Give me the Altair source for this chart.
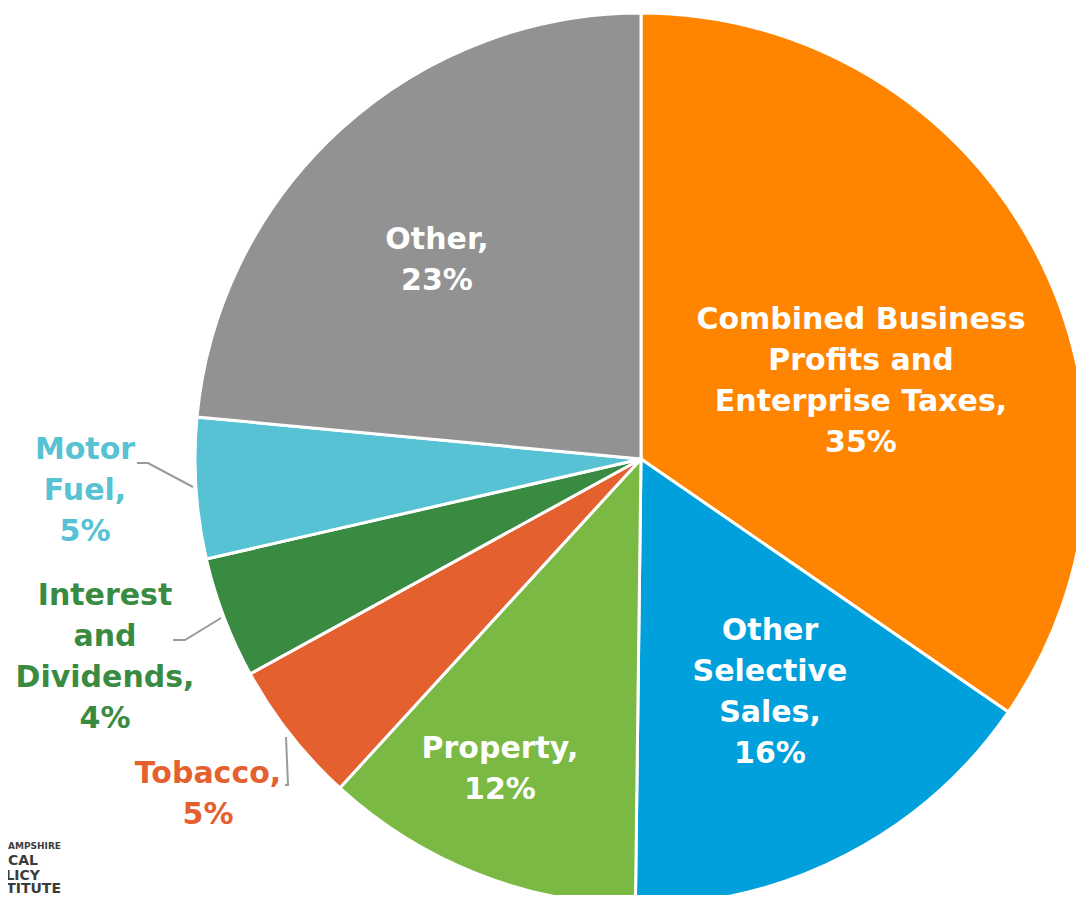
import altair as alt
import pandas as pd

# ---- data ----
categories = [
    "Combined Business Profits and Enterprise Taxes",
    "Other Selective Sales",
    "Property",
    "Tobacco",
    "Interest and Dividends",
    "Motor Fuel",
    "Other",
]
shares = [34.6, 15.6, 11.6, 5.2, 4.4, 5.1, 23.5]
label_texts = [
    "Combined Business\nProfits and\nEnterprise Taxes,\n35%",
    "Other\nSelective\nSales,\n16%",
    "Property,\n12%",
    "Tobacco,\n5%",
    "Interest\nand\nDividends,\n4%",
    "Motor\nFuel,\n5%",
    "Other,\n23%",
]
colors = ["#FF8400", "#00A0DC", "#7AB943", "#E4602F", "#3A8B42", "#56C2D3", "#929292"]

# ---- layout (pixels; first-line centre of each label) ----
OFF = 8
CX, CY, R = 641 - OFF, 459 - OFF, 446
label_pos = [(861, 320), (770, 631), (500, 749), (208, 774),
             (105, 596), (85, 450), (437, 240)]
label_colors = ["white", "white", "white", "#E4602F", "#3A8B42", "#56C2D3", "white"]
leaders = {
    "Motor Fuel": [(137, 463), (148, 463), (193, 487)],
    "Interest": [(173, 640), (185, 640), (221, 618)],
    "Tobacco": [(286, 737), (288, 785), (285, 785)],
}
logo_small = [("NEW HAMPSHIRE", 61, 846)]
logo_big = [("FISCAL", 38, 861), ("POLICY", 40, 875.5), ("INSTITUTE", 61, 889)]

FONT = "DejaVu Sans"

pie_df = pd.DataFrame({"category": categories, "share": shares,
                       "idx": list(range(len(categories)))})

pie = alt.Chart(pie_df).mark_arc(radius=R, stroke="white", strokeWidth=3).encode(
    theta=alt.Theta("share:Q", stack=True),
    order=alt.Order("idx:Q"),
    color=alt.Color("category:N", scale=alt.Scale(domain=categories, range=colors),
                    legend=None),
    x=alt.value(CX),
    y=alt.value(CY),
)

lab_df = pd.DataFrame({
    "text": label_texts,
    "px": [p[0] - OFF for p in label_pos],
    "py": [p[1] - OFF for p in label_pos],
    "col": label_colors,
})
labels = alt.Chart(lab_df).mark_text(
    font=FONT, fontWeight="bold", fontSize=30, lineHeight=41,
    lineBreak="\n", align="center", baseline="middle",
).encode(
    x=alt.X("px:Q", scale=None),
    y=alt.Y("py:Q", scale=None),
    text="text:N",
    color=alt.Color("col:N", scale=None),
)

rows = []
for name, pts in leaders.items():
    for k, (x, y) in enumerate(pts):
        rows.append({"line": name, "k": k, "px": x - OFF, "py": y - OFF})
lead_df = pd.DataFrame(rows)
lead = alt.Chart(lead_df).mark_line(color="#9A9A9A", strokeWidth=2).encode(
    x=alt.X("px:Q", scale=None),
    y=alt.Y("py:Q", scale=None),
    detail="line:N",
    order="k:Q",
)

ls_df = pd.DataFrame([{"t": t, "px": x - OFF, "py": y - OFF} for t, x, y in logo_small])
lb_df = pd.DataFrame([{"t": t, "px": x - OFF, "py": y - OFF} for t, x, y in logo_big])
logo1 = alt.Chart(ls_df).mark_text(font=FONT, fontWeight="bold", fontSize=9,
                                   align="right", baseline="middle", color="#3C3C3C").encode(
    x=alt.X("px:Q", scale=None), y=alt.Y("py:Q", scale=None), text="t:N")
logo2 = alt.Chart(lb_df).mark_text(font=FONT, fontWeight="bold", fontSize=14,
                                   align="right", baseline="middle", color="#3C3C3C").encode(
    x=alt.X("px:Q", scale=None), y=alt.Y("py:Q", scale=None), text="t:N")

chart = alt.layer(pie, lead, labels, logo1, logo2).properties(
    width=1068, height=887, padding=0,
    autosize=alt.AutoSizeParams(type="none"),
).configure_view(stroke=None)

chart.save("out.html", embed_options={"renderer": "svg", "actions": False})
